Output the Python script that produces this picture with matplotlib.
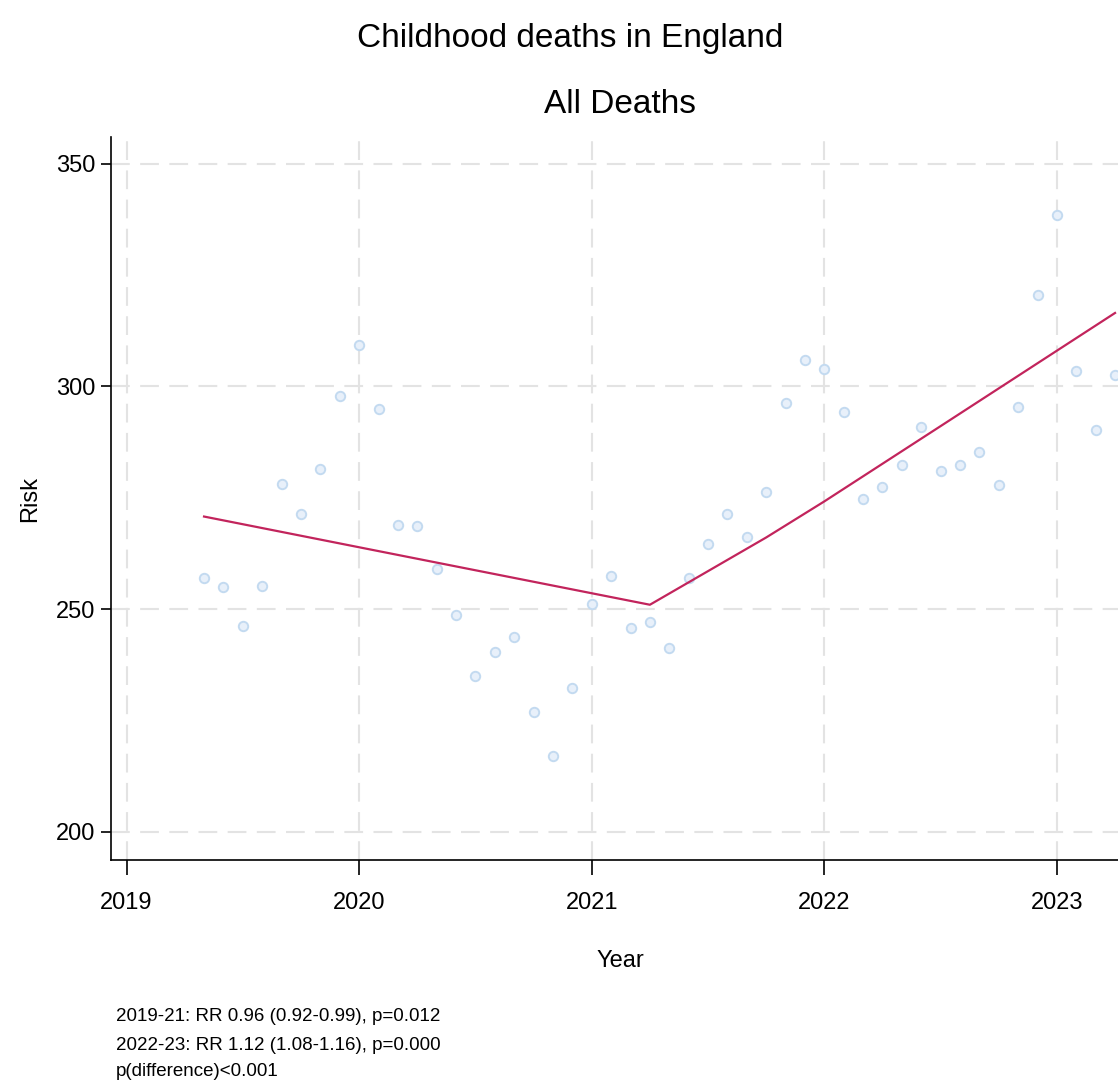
import matplotlib
matplotlib.use("Agg")
import matplotlib.pyplot as plt
import numpy as np

plt.rcParams['font.family'] = ['Liberation Sans', 'DejaVu Sans']

# Monthly observations (decimal year) from May 2019 to Apr 2023
start_year = 2019 + 4/12
n_months = 48
years = start_year + np.arange(n_months) / 12.0

risk = [256.9, 255.0, 246.2, 255.2, 278.1, 271.3, 281.5, 297.8, 309.4, 294.9,
        269.0, 268.7, 259.0, 248.8, 234.9, 240.4, 243.7, 226.9, 217.0, 232.4,
        251.1, 257.5, 245.7, 247.2, 241.3, 257.1, 264.7, 271.3, 266.1, 276.3,
        296.4, 305.9, 304.0, 294.3, 274.8, 277.4, 282.4, 290.8, 281.0, 282.4,
        285.4, 277.8, 295.3, 320.5, 338.6, 303.4, 290.2, 302.6]

# Fitted segmented trend
fit_x = [2019.333, 2020.0, 2021.25, 2021.75, 2022.0, 2022.5, 2023.25]
fit_y = [270.8, 263.9, 251.0, 266.1, 274.2, 291.1, 316.5]

xticks = [2019, 2020, 2021, 2022, 2023]
yticks = [200, 250, 300, 350]

notes = ["2019-21: RR 0.96 (0.92-0.99), p=0.012",
         "2022-23: RR 1.12 (1.08-1.16), p=0.000",
         "p(difference)<0.001"]

W, H = 1118, 1081
fig = plt.figure(figsize=(W/100, H/100), dpi=100)
left, right, top, bottom = 111, 1129, 137, 860
ax = fig.add_axes([left/W, 1 - bottom/H, (right-left)/W, (bottom-top)/H])

ax.set_xlim(2018.933, 2023.31)
ax.set_ylim(193.7, 356.0)

ax.grid(True, color='#e3e3e3', linestyle=(0, (9, 5)), linewidth=1.5)
ax.set_axisbelow(True)

ax.scatter(years, risk, s=46, facecolor='#e8f0fa', edgecolor='#c3daf0',
           linewidths=1.4, zorder=3)
ax.plot(fit_x, fit_y, color='#c2245c', linewidth=1.6, zorder=4)

ax.set_xticks(xticks)
ax.set_yticks(yticks)
ax.tick_params(axis='x', length=11, width=1.2, pad=12, labelsize=17)
ax.tick_params(axis='y', length=7, width=1.2, pad=4, labelsize=17)
for s in ['top', 'right']:
    ax.spines[s].set_visible(False)
for s in ['left', 'bottom']:
    ax.spines[s].set_linewidth(1.2)

ax.set_xlabel('Year', fontsize=17, labelpad=26)
ax.set_ylabel('Risk', fontsize=17, labelpad=11)
ax.set_title('All Deaths', fontsize=24, pad=17)

fig.text(570/W, 1 - 39/H, 'Childhood deaths in England', fontsize=24,
         ha='center', va='center')

baselines = [1021, 1050, 1076]
for t, yb in zip(notes, baselines):
    fig.text(116/W, 1 - yb/H, t, fontsize=13.5, ha='left', va='baseline')

fig.savefig('out.png', dpi=100)
